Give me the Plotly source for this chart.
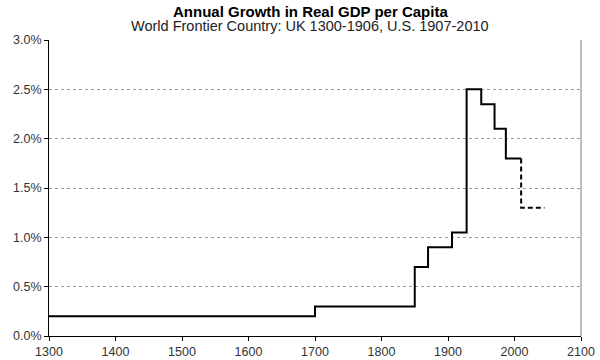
import plotly.graph_objects as go

# Data: step series (start year of each period, growth rate in %)
hist_years = [1300, 1700, 1850, 1870, 1906, 1928, 1950, 1970, 1987, 2010]
hist_growth = [0.2, 0.3, 0.7, 0.9, 1.05, 2.5, 2.35, 2.1, 1.8, 1.8]
proj_years = [2010, 2010, 2045]
proj_growth = [1.8, 1.3, 1.3]

x_ticks = [1300, 1400, 1500, 1600, 1700, 1800, 1900, 2000, 2100]
y_ticks = [0.0, 0.5, 1.0, 1.5, 2.0, 2.5, 3.0]
y_ticklabels = [f"{v:.1f}%" for v in y_ticks]

title = "Annual Growth in Real GDP per Capita"
subtitle = "World Frontier Country: UK 1300-1906, U.S. 1907-2010"

fig = go.Figure()
fig.add_trace(go.Scatter(x=hist_years, y=hist_growth, mode="lines",
                         line=dict(color="black", width=2, shape="hv"),
                         showlegend=False, hoverinfo="skip"))
fig.add_trace(go.Scatter(x=proj_years, y=proj_growth, mode="lines",
                         line=dict(color="black", width=2, dash="5px,3px"),
                         showlegend=False, hoverinfo="skip"))

font = "Liberation Sans, Arial, sans-serif"
fig.update_layout(
    width=600, height=360,
    margin=dict(l=49, r=19, t=40, b=24, autoexpand=False),
    paper_bgcolor="white", plot_bgcolor="white",
    font=dict(family=font, size=12.5, color="#333333"),
    xaxis=dict(range=[1300, 2100], tickvals=x_ticks, showgrid=False,
               showline=True, linecolor="black", linewidth=1,
               ticks="outside", ticklen=4, tickcolor="black", automargin=False,
               zeroline=False, tickfont=dict(size=12.5, color="#333333")),
    yaxis=dict(range=[0, 3.0], tickvals=y_ticks, ticktext=y_ticklabels,
               showgrid=True, gridcolor="#9a9a9a", griddash="dot", gridwidth=1,
               showline=True, linecolor="black", linewidth=1, automargin=False,
               ticks="outside", ticklen=4, tickcolor="black",
               zeroline=False, tickfont=dict(size=12.5, color="#333333")),
    shapes=[dict(type="line", xref="paper", yref="paper", x0=1, x1=1, y0=0, y1=1,
                 line=dict(color="#808080", width=1))],
    annotations=[
        dict(text="<b>" + title + "</b>", xref="paper", yref="paper",
             x=0.491, y=1, yshift=28.5, xanchor="center", yanchor="middle",
             showarrow=False, font=dict(size=15, color="black", family=font)),
        dict(text=subtitle, xref="paper", yref="paper",
             x=0.491, y=1, yshift=14, xanchor="center", yanchor="middle",
             showarrow=False, font=dict(size=14.5, color="#222222", family=font)),
    ],
)

fig.write_html("out.html", config={"displayModeBar": False},
               post_script="document.body.style.margin='0px';")
